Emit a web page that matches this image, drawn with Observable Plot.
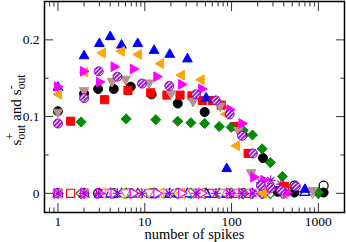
<!DOCTYPE html>
<html><head><meta charset="utf-8">
<script src="https://cdn.jsdelivr.net/npm/d3@7"></script>
<script src="https://cdn.jsdelivr.net/npm/@observablehq/plot@0.6"></script>
<style>body{margin:0;background:#fff}#chart{width:346px;height:242px}</style>
</head><body><div id="chart"></div><script>
// ---- data ----
const xBlack = [1, 2, 2.9, 4.4, 6.9, 12, 24, 49, 135, 230, 340, 530, 1150];
const plusBlack = [0.107, 0.130, 0.136, 0.136, 0.139, 0.129, 0.117, 0.106, 0.076, 0.046, 0.002, 0.001, 0.001];
const minusBlack = [0, 0, 0, 0, 0, 0, 0, 0, 0, 0, 0.003, 0.010, 0.010];

const xRed = [1.4, 3.45, 6.4, 11.7, 18, 25.5, 35, 46, 60, 76, 107, 155, 410];
const plusRed = [0.094, 0.122, 0.134, 0.131, 0.128, 0.128, 0.127, 0.121, 0.121, 0.115, 0.087, 0.052, 0.009];
const minusRed = [0, 0, 0, 0, 0, 0, 0, 0, 0, 0, 0, 0, 0.002];

const xGreen = [1.85, 6.1, 13.4, 24, 34, 49, 72, 99, 136, 174, 225, 280, 385, 1000];
const plusGreen = [0.093, 0.097, 0.096, 0.094, 0.092, 0.091, 0.087, 0.086, 0.082, 0.076, 0.058, 0.040, 0.022, 0.001];
const minusGreen = [0, 0, 0, 0, 0, 0, 0, 0, 0, 0, 0, 0, 0, 0];

const xBlue = [1, 2, 3, 4, 5.4, 8.3, 12.8, 19.4, 31, 51, 88, 700];
const plusBlue = [0.139, 0.180, 0.196, 0.205, 0.194, 0.196, 0.187, 0.182, 0.176, 0.125, 0.033, 0.006];
const minusBlue = [0, 0, 0, 0, 0, 0, 0, 0, 0, 0, 0, 0.002];

const xOrange = [1, 2, 3.2, 5.3, 8.3, 15, 26, 44, 85, 112, 228, 400];
const plusOrange = [0.129, 0.158, 0.183, 0.185, 0.181, 0.169, 0.154, 0.148, 0.103, 0.062, 0.001, 0];
const minusOrange = [0, 0, 0, 0, 0, 0, 0, 0, 0, 0, 0, 0];

const xBrown = [1, 2, 4.2, 6, 11.2, 20, 36, 74, 120, 168, 390, 860];
const plusBrown = [0.105, 0.133, 0.145, 0.148, 0.143, 0.129, 0.119, 0.113, 0.081, 0.026, 0.002, 0.003];
const minusBrown = [0, 0, 0, 0, 0, 0, 0, 0, 0, 0, 0, 0];

const xMagenta = [1, 2, 3.05, 4.5, 7.5, 14, 27, 46, 97, 134, 183, 240, 440];
const plusMagenta = [0.139, 0.159, 0.145, 0.165, 0.162, 0.152, 0.142, 0.136, 0.109, 0.091, 0.021, 0.017, 0.001];
const minusMagenta = [0, 0, 0, 0, 0, 0, 0, 0, 0, 0, 0, 0, 0];

const xViolet = [1, 2, 2.95, 4.85, 9.3, 19.2, 39, 66, 95, 132, 176, 218, 283, 370, 550];
const plusViolet = [0.091, 0.124, 0.159, 0.152, 0.143, 0.140, 0.129, 0.121, 0.103, 0.075, 0.052, 0.010, 0.007, 0.004, 0.009];
const minusViolet = [0, 0, 0, 0, 0, 0, 0, 0, 0, 0, 0, 0.014, 0.017, 0.012, 0.002];

const xMajorTicks = [1, 10, 100, 1000];
const xMinorTicks = [0.8, 0.9, 2, 3, 4, 5, 6, 7, 8, 9, 20, 30, 40, 50, 60, 70, 80, 90, 200, 300, 400, 500, 600, 700, 800, 900];
const yMajorTicks = [0, 0.1, 0.2];
const yMinorTicks = [0.05, 0.15];
const xLabel = "number of spikes";

// ---- symbols ----
function sym(fn) { return {draw(c, size) { fn(c, Math.sqrt(size / Math.PI)); }}; }
const circleSym = sym((c, r) => { c.moveTo(r, 0); c.arc(0, 0, r, 0, 2 * Math.PI); c.closePath(); });
const squareSym = sym((c, r) => { const h = r * 0.9; c.moveTo(-h, -h); c.lineTo(h, -h); c.lineTo(h, h); c.lineTo(-h, h); c.closePath(); });
const diamondSym = sym((c, r) => { const h = r * 1.12; c.moveTo(0, -h); c.lineTo(h, 0); c.lineTo(0, h); c.lineTo(-h, 0); c.closePath(); });
const triUp = sym((c, r) => { c.moveTo(0, -1.1 * r); c.lineTo(1.08 * r, 0.8 * r); c.lineTo(-1.08 * r, 0.8 * r); c.closePath(); });
const triDown = sym((c, r) => { c.moveTo(0, 1.1 * r); c.lineTo(1.08 * r, -0.8 * r); c.lineTo(-1.08 * r, -0.8 * r); c.closePath(); });
const triLeft = sym((c, r) => { c.moveTo(-1.1 * r, 0); c.lineTo(0.8 * r, -1.08 * r); c.lineTo(0.8 * r, 1.08 * r); c.closePath(); });
const triRight = sym((c, r) => { c.moveTo(1.1 * r, 0); c.lineTo(-0.8 * r, -1.08 * r); c.lineTo(-0.8 * r, 1.08 * r); c.closePath(); });
const starSym = sym((c, r) => { const h = r * 1.1, d = h * 0.7071;
  c.moveTo(-h, 0); c.lineTo(h, 0); c.moveTo(0, -h); c.lineTo(0, h);
  c.moveTo(-d, -d); c.lineTo(d, d); c.moveTo(-d, d); c.lineTo(d, -d); });

const series = [
  {color: "#000000", shape: circleSym, x: xBlack, plus: plusBlack, minus: minusBlack},
  {color: "#ff0000", shape: squareSym, x: xRed, plus: plusRed, minus: minusRed},
  {color: "#008b00", shape: diamondSym, x: xGreen, plus: plusGreen, minus: minusGreen},
  {color: "#0000ff", shape: triUp, x: xBlue, plus: plusBlue, minus: minusBlue},
  {color: "#ffa500", shape: triLeft, x: xOrange, plus: plusOrange, minus: minusOrange},
  {color: "#bc8f8f", shape: triDown, x: xBrown, plus: plusBrown, minus: minusBrown},
  {color: "#ff00ff", shape: triRight, x: xMagenta, plus: plusMagenta, minus: minusMagenta},
  {color: "#9400d3", shape: circleSym, x: xViolet, plus: plusViolet, minus: minusViolet, hatched: true}
];
const R = 4.5;
const tables = series.map(s => s.x.map((x, i) => ({x, plus: s.plus[i], minus: s.minus[i]})));

const minusMarks = series.map((s, k) => s.hatched
  ? Plot.dot(tables[k], {x: "x", y: "minus", symbol: starSym, r: R, fill: "none", stroke: s.color, strokeWidth: 1.1})
  : Plot.dot(tables[k], {x: "x", y: "minus", symbol: s.shape, r: R, fill: "#ffffff", stroke: s.color, strokeWidth: 1.2}));
const plusMarks = series.map((s, k) =>
  Plot.dot(tables[k], {x: "x", y: "plus", symbol: s.shape, r: R, fill: s.hatched ? "url(#hatch)" : s.color, stroke: s.color, strokeWidth: 1}));

const tickColor = "#333";
const plot = Plot.plot({
  width: 346, height: 242,
  marginLeft: 44, marginRight: 2, marginTop: 1, marginBottom: 30,
  style: {fontFamily: "'Liberation Serif', 'Times New Roman', serif", fontSize: "13.5px", color: "#000", background: "#fff"},
  x: {type: "log", domain: [0.7, 2000]},
  y: {domain: [-0.025, 0.25]},
  marks: [
    ...minusMarks,
    ...plusMarks,
    Plot.axisX(xMajorTicks, {anchor: "bottom", tickSize: -9, fill: "none", stroke: tickColor, label: null}),
    Plot.axisX(xMajorTicks, {anchor: "top", tickSize: -9, fill: "none", stroke: tickColor, label: null}),
    Plot.axisX(xMinorTicks, {anchor: "bottom", tickSize: -4.5, fill: "none", stroke: tickColor, label: null}),
    Plot.axisX(xMinorTicks, {anchor: "top", tickSize: -4.5, fill: "none", stroke: tickColor, label: null}),
    Plot.axisY(yMajorTicks, {anchor: "left", tickSize: -9, fill: "none", stroke: tickColor, label: null}),
    Plot.axisY(yMajorTicks, {anchor: "right", tickSize: -9, fill: "none", stroke: tickColor, label: null}),
    Plot.axisY(yMinorTicks, {anchor: "left", tickSize: -4.5, fill: "none", stroke: tickColor, label: null}),
    Plot.axisY(yMinorTicks, {anchor: "right", tickSize: -4.5, fill: "none", stroke: tickColor, label: null}),
    Plot.axisX(xMajorTicks, {anchor: "bottom", tickSize: 0, tickPadding: 4, label: null, tickFormat: d => String(d)}),
    Plot.axisY(yMajorTicks, {anchor: "left", tickSize: 0, tickPadding: 5, label: null, tickFormat: d => d === 0 ? "0" : d3.format(".1f")(d)}),
    Plot.frame({stroke: "#000", strokeWidth: 1.5}),
    Plot.text([xLabel], {text: d => d, frameAnchor: "bottom", dy: 26.5, lineAnchor: "bottom", fontSize: 14.5})
  ]
});

// hatch pattern for the violet filled circles
const defs = d3.select(plot).insert("defs", ":first-child");
const pat = defs.append("pattern").attr("id", "hatch").attr("patternUnits", "userSpaceOnUse")
  .attr("width", 3).attr("height", 3).attr("patternTransform", "rotate(45)");
pat.append("rect").attr("width", 3).attr("height", 3).attr("fill", "#9400d3");
pat.append("rect").attr("width", 1.2).attr("height", 3).attr("fill", "#ffffff");

document.getElementById("chart").appendChild(plot);

// y-axis label with sub/superscripts
const g = d3.select(plot).append("g");
const txt = g.append("text").attr("font-family", "'Liberation Serif', 'Times New Roman', serif").attr("fill", "#000").attr("text-anchor", "start");
let cx = 0;
function piece(s, size, y) {
  const ts = txt.append("tspan").attr("x", cx).attr("y", y).attr("font-size", size).text(s);
  return ts.node().getComputedTextLength();
}
const mainSize = 15, subSize = 11.5;
cx += piece("s", mainSize, 0);
let start = cx; let wOut = piece("out", subSize, 4); piece("+", subSize, -7); cx = start + wOut;
cx += 4;
cx += piece("and", mainSize, 0);
cx += 4;
cx += piece("s", mainSize, 0);
start = cx; wOut = piece("out", subSize, 4); piece("-", subSize, -7); cx = start + wOut;
g.attr("transform", `translate(21,${110 + cx / 2}) rotate(-90)`);
</script></body></html>
